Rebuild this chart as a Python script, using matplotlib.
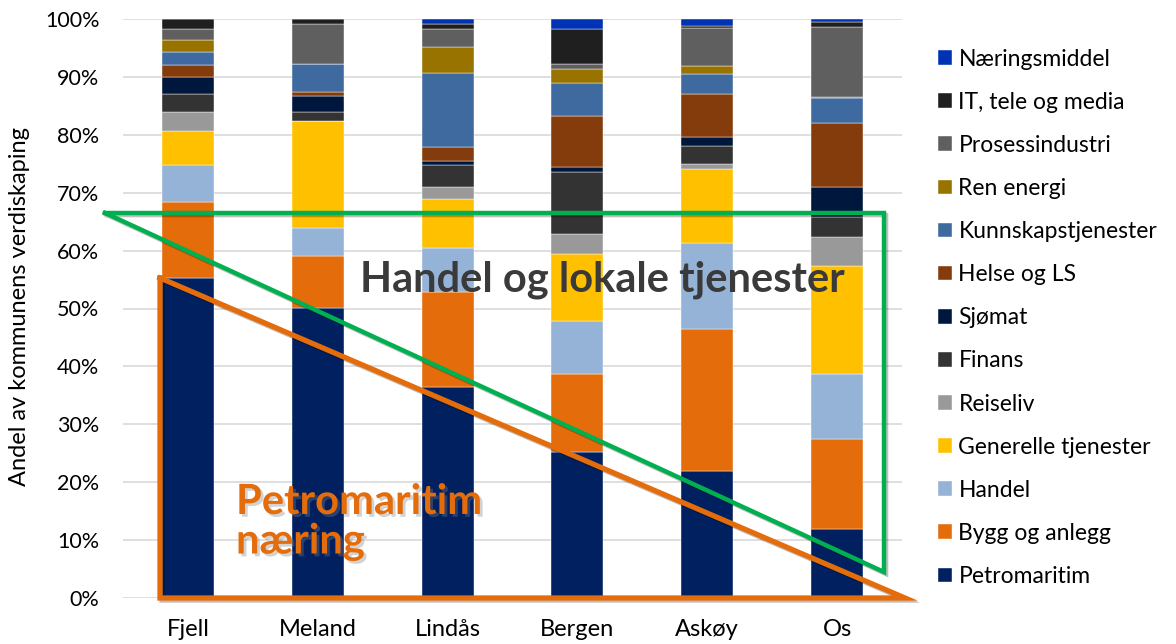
import numpy as np
import matplotlib
import matplotlib.pyplot as plt
import matplotlib.patheffects as pe
from matplotlib.lines import Line2D
matplotlib.use('Agg')

plt.rcParams['font.family'] = ['Lato', 'DejaVu Sans']

kommuner = ['Fjell', 'Meland', 'Lindås', 'Bergen', 'Askøy', 'Os']

# stacked from bottom to top
naeringer = ['Petromaritim', 'Bygg og anlegg', 'Handel', 'Generelle tjenester',
             'Reiseliv', 'Finans', 'Sjømat', 'Helse og LS', 'Kunnskapstjenester',
             'Ren energi', 'Prosessindustri', 'IT, tele og media', 'Næringsmiddel']

petromaritim = [55.3, 50.1, 36.4, 25.2, 22.0, 12.0]
bygg = [13.1, 9.0, 16.4, 13.5, 24.5, 15.5]
handel = [6.4, 4.8, 7.6, 9.1, 14.8, 11.2]
generelle = [5.9, 18.5, 8.5, 11.6, 12.8, 18.6]
reiseliv = [3.2, 0.0, 2.1, 3.5, 0.9, 5.0]
finans = [3.1, 1.5, 3.8, 10.7, 3.1, 3.5]
sjomat = [3.0, 2.8, 0.7, 0.8, 1.5, 5.2]
helse = [2.1, 0.7, 2.4, 8.8, 7.4, 11.0]
kunnskap = [2.2, 4.8, 12.8, 5.7, 3.5, 4.3]
ren_energi = [2.1, 0.0, 4.5, 2.5, 1.4, 0.2]
prosess = [1.9, 6.9, 3.1, 0.8, 6.5, 12.1]
it_tele = [1.7, 0.9, 0.8, 6.1, 0.4, 0.9]
naeringsmiddel = [0.0, 0.0, 0.9, 1.7, 1.2, 0.5]

serier = [petromaritim, bygg, handel, generelle, reiseliv, finans, sjomat,
          helse, kunnskap, ren_energi, prosess, it_tele, naeringsmiddel]

farger = ['#002060', '#E46C0A', '#95B3D7', '#FFC000', '#999999', '#333333',
          '#00173D', '#843C0C', '#3E6AA0', '#997300', '#5F5F5F', '#1F1F1F',
          '#0033B4']

W, H = 1176, 644
fig = plt.figure(figsize=(W / 100, H / 100), dpi=100)
ax = fig.add_axes([123 / W, 1 - 598 / H, (902 - 123) / W, (598 - 19) / H])

x = np.arange(len(kommuner))
bunn = np.zeros(len(kommuner))
handles = []
for navn, verdier, farge in zip(naeringer, serier, farger):
    verdier = np.array(verdier)
    b = ax.bar(x, verdier, 0.4, bottom=bunn, color=farge, label=navn,
               edgecolor='white', linewidth=0.3, zorder=2)
    handles.append(b)
    bunn = bunn + verdier

ax.set_xlim(-0.5, len(kommuner) - 0.5)
ax.set_ylim(0, 100)
ax.set_yticks(np.arange(0, 101, 10))
ax.set_yticklabels([f'{v}%' for v in range(0, 101, 10)])
ax.set_xticks(x)
ax.set_xticklabels(kommuner)
ax.tick_params(axis='both', length=0, colors='#000000')
ax.tick_params(axis='y', pad=17, labelsize=15.5)
ax.tick_params(axis='x', pad=15, labelsize=17)
ax.grid(axis='y', color='#D9D9D9', linewidth=1.2, zorder=0)
for s in ax.spines.values():
    s.set_visible(False)

fig.text(20 / W, 1 - 307 / H, 'Andel av kommunens verdiskaping', rotation=90,
         ha='center', va='center', fontsize=17)

fig.legend(handles[::-1], naeringer[::-1], loc='upper left',
           bbox_to_anchor=(917 / W, 1 - 28 / H), frameon=False, fontsize=16.5,
           handlelength=0.61, handleheight=0.61, handletextpad=0.3,
           labelspacing=0.965)


def px(xp, yp):
    return xp / W, 1 - yp / H


skygge = [pe.SimpleLineShadow(offset=(1.5, -1.5), alpha=0.25), pe.Normal()]

# green triangle (Handel og lokale tjenester)
gx, gy = zip(*[px(105, 213), px(884, 213), px(884, 572), px(105, 213)])
fig.add_artist(Line2D(gx, gy, transform=fig.transFigure, color='#00B050',
                      linewidth=3.2, solid_joinstyle='miter', zorder=5,
                      path_effects=skygge))

# orange triangle (Petromaritim næring)
ox, oy = zip(*[px(160, 278), px(160, 598), px(905, 598), px(160, 278)])
fig.add_artist(Line2D(ox, oy, transform=fig.transFigure, color='#E46C0A',
                      linewidth=3.8, solid_joinstyle='miter', zorder=5,
                      path_effects=skygge))

fig.text(*px(602, 280), 'Handel og lokale tjenester', ha='center', va='center',
         fontsize=30, fontweight='bold', color='#3A3A3A', zorder=6)

fig.text(*px(236, 522), 'Petromaritim\nnæring', ha='left', va='center',
         fontsize=30, fontweight='bold', color='#E46C0A', linespacing=1.05,
         zorder=6,
         path_effects=[pe.withSimplePatchShadow(offset=(2, -2),
                                                shadow_rgbFace='#808080',
                                                alpha=0.35)])

fig.savefig('out.png', dpi=100)
